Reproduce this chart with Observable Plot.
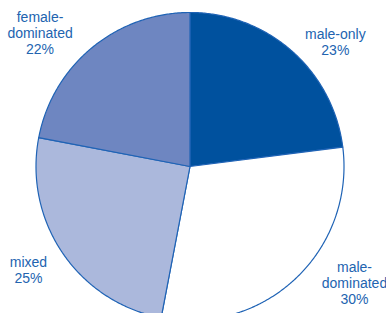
<!DOCTYPE html>
<html><head><meta charset="utf-8">
<script src="https://cdn.jsdelivr.net/npm/d3@7"></script>
<script src="https://cdn.jsdelivr.net/npm/@observablehq/plot@0.6"></script>
<style>html,body{margin:0;padding:0;background:#fff} svg{display:block}</style>
</head><body><div id="chart"></div>
<script>
// Data
const categories = ["male-only", "male-dominated", "mixed", "female-dominated"];
const shares = [23, 30, 25, 22];
const labels = ["male-only\n23%", "male-\ndominated\n30%", "mixed\n25%", "female-\ndominated\n22%"];
const colors = ["#00519e", "#ffffff", "#abb8dc", "#6e86c1"];

// Layout (label placement relative to each slice's mid angle)
const labelNudgeDeg = [8, -11.6, 1.7, -8.6];
const labelRadius = [1.243, 1.307, 1.244, 1.306];

const arcs = d3.pie().sort(null).value(d => d)(shares);
const polys = [];
arcs.forEach((a, i) => {
  const cat = categories[i];
  polys.push({cat, x: 0, y: 0});
  const n = Math.max(2, Math.ceil((a.endAngle - a.startAngle) / (Math.PI / 360)));
  for (let k = 0; k <= n; k++) {
    const t = a.startAngle + (a.endAngle - a.startAngle) * k / n;
    polys.push({cat, x: Math.sin(t), y: Math.cos(t)});
  }
  polys.push({cat, x: 0, y: 0});
});

const labelData = arcs.map((a, i) => {
  const mid = (a.startAngle + a.endAngle) / 2 + labelNudgeDeg[i] * Math.PI / 180;
  return {text: labels[i], x: labelRadius[i] * Math.sin(mid), y: labelRadius[i] * Math.cos(mid)};
});

const chart = Plot.plot({
  width: 386,
  height: 313,
  margin: 0,
  x: {domain: [-1, 1], range: [35.5, 343.5], axis: null},
  y: {domain: [-1, 1], range: [320, 12], axis: null},
  color: {domain: categories, range: colors},
  style: {fontFamily: "'Liberation Sans', Arial, sans-serif", background: "#fff", overflow: "hidden"},
  marks: [
    Plot.line(polys, {x: "x", y: "y", z: "cat", fill: "cat", stroke: "#1f63b5", strokeWidth: 1.2, strokeLinejoin: "round", curve: "linear"}),
    Plot.text(labelData, {x: "x", y: "y", text: "text", fontSize: 14, lineHeight: 1.14, fill: "#2264b0", textAnchor: "middle", lineAnchor: "middle"})
  ]
});
document.getElementById("chart").appendChild(chart);
</script>
</body></html>
